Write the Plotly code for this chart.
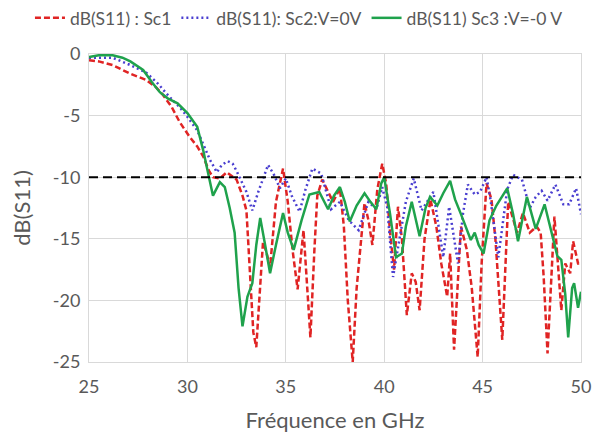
import plotly.graph_objects as go

# ---- data ----
sc1_freq = [25.0, 25.5, 26.2, 27.1, 27.9, 28.4, 28.75, 29.2, 29.6, 30.1, 30.5, 30.8, 31.1, 31.3, 31.65,
            32.0, 32.5, 32.8, 33.0, 33.2, 33.35, 33.5, 33.65, 33.84, 34.0, 34.2, 34.5, 34.86, 35.1, 35.35,
            35.6, 35.9, 36.05, 36.25, 36.45, 36.6, 36.85, 37.1, 37.4, 37.75, 37.95, 38.15, 38.4, 38.6,
            39.0, 39.2, 39.4, 39.65, 39.9, 40.1, 40.3, 40.5, 40.7, 40.9, 41.15, 41.4, 41.6, 41.8, 42.05,
            42.35, 42.65, 42.9, 43.2, 43.35, 43.55, 43.9, 44.2, 44.45, 44.75, 44.95, 45.2, 45.45, 45.65,
            46.0, 46.3, 46.75, 47.05, 47.4, 47.75, 47.95, 48.1, 48.3, 48.65, 49.0, 49.2, 49.45, 49.6,
            49.85, 50.0]
sc1_db = [-0.5, -0.6, -0.9, -1.6, -2.1, -2.7, -3.3, -4.3, -5.5, -6.7, -7.5, -8.3, -9.5, -10.0, -10.1,
          -9.6, -10.2, -11.5, -12.7, -18.0, -22.6, -23.8, -20.0, -15.3, -16.0, -17.3, -12.0, -9.3, -12.0, -16.0,
          -19.1, -14.3, -18.0, -23.0, -16.0, -11.5, -10.2, -11.0, -12.0, -10.9, -14.0, -20.0, -25.0, -19.0,
          -12.1, -13.5, -15.5, -11.0, -8.9, -10.5, -14.5, -17.5, -12.4, -15.0, -21.2, -17.8, -18.5, -20.8, -15.0,
          -11.8, -14.0, -17.0, -19.7, -16.2, -24.0, -14.0, -15.9, -19.0, -24.6, -17.0, -10.5, -11.8, -15.0,
          -23.2, -12.0, -14.5, -12.9, -14.5, -14.0, -14.5, -18.0, -24.3, -13.2, -20.8, -17.0, -17.8, -15.2,
          -17.0, -17.0]

sc2_freq = [25.0, 25.5, 26.2, 27.1, 27.9, 28.5, 29.1, 29.6, 30.0, 30.5, 30.85, 31.15, 31.5, 31.75, 32.05,
            32.3, 32.5, 32.8, 33.0, 33.3, 33.6, 34.1, 34.4, 34.7, 35.0, 35.3, 35.7, 36.0, 36.35, 36.8, 37.0,
            37.3, 37.75, 38.2, 38.7, 39.2, 39.6, 39.9, 40.15, 40.45, 40.8, 41.1, 41.5, 41.9, 42.5, 43.0,
            43.3, 43.75, 44.0, 44.25, 44.6, 44.87, 45.2, 45.4, 45.8, 46.25, 46.55, 47.0, 47.4, 47.7, 48.0,
            48.3, 48.7, 49.1, 49.4, 49.75, 50.0]
sc2_db = [-0.3, -0.3, -0.3, -0.9, -1.5, -2.4, -3.5, -4.3, -5.1, -6.2, -7.5, -8.6, -9.6, -9.0, -8.7,
          -8.9, -9.5, -10.5, -11.2, -12.7, -11.2, -9.0, -9.8, -10.9, -10.1, -11.5, -12.8, -11.0, -9.3, -9.7, -10.8,
          -12.6, -12.0, -13.5, -14.3, -12.0, -12.6, -10.8, -12.4, -18.1, -14.8, -12.0, -10.1, -12.7, -11.2, -16.5,
          -12.4, -17.0, -13.0, -10.6, -11.4, -11.2, -10.0, -11.8, -16.5, -11.0, -9.8, -10.2, -12.5, -11.6, -11.1,
          -11.9, -10.6, -12.2, -12.2, -10.9, -13.0]

sc3_freq = [25.0, 25.5, 26.2, 26.7, 27.1, 27.75, 28.2, 28.6, 29.0, 29.5, 30.0, 30.5, 30.8, 31.0, 31.3,
            31.65, 31.9, 32.15, 32.4, 32.6, 32.8, 33.05, 33.3, 33.5, 33.7, 33.95, 34.2, 34.5, 34.86, 35.1,
            35.4, 35.8, 36.2, 36.7, 37.15, 37.45, 37.75, 38.0, 38.25, 38.6, 39.0, 39.3, 39.6, 39.85, 40.0,
            40.3, 40.6, 40.9, 41.1, 41.4, 41.6, 41.8, 42.1, 42.33, 42.7, 43.0, 43.35, 43.6, 43.9, 44.15,
            44.4, 44.6, 44.8, 45.05, 45.35, 45.7, 46.25, 46.55, 46.8, 47.25, 47.7, 48.15, 48.5, 48.8, 49.0,
            49.2, 49.35, 49.55, 49.65, 49.85, 50.0]
sc3_db = [-0.25, -0.1, -0.1, -0.3, -0.6, -1.3, -2.3, -3.1, -3.6, -4.0, -4.8, -5.9, -7.8, -9.2, -11.5,
          -10.4, -10.8, -12.5, -14.5, -19.0, -22.1, -19.7, -18.6, -15.5, -13.3, -15.5, -17.8, -15.5, -12.9, -14.5,
          -15.9, -13.5, -11.4, -11.2, -12.6, -11.5, -10.8, -12.0, -13.6, -12.3, -11.3, -12.0, -12.6, -10.5, -10.0,
          -13.0, -16.5, -16.2, -14.0, -12.0, -13.5, -14.8, -12.5, -11.6, -12.3, -11.3, -10.3, -11.8, -13.0, -14.0,
          -15.1, -14.5, -15.5, -16.2, -13.5, -12.3, -10.9, -13.0, -15.2, -11.6, -14.2, -12.2, -14.5, -16.4, -16.7,
          -19.5, -23.0, -19.0, -18.6, -20.6, -19.3]

series_names = ["dB(S11) : Sc1", "dB(S11): Sc2:V=0V", "dB(S11) Sc3 :V=-0 V"]
threshold_db = -10
x_ticks = [25, 30, 35, 40, 45, 50]
y_ticks = [0, -5, -10, -15, -20, -25]
y_tick_labels = ["0", "-5", "-10", "-15", "-20", "-25"]

FONT = "Lato, 'Open Sans', sans-serif"
TXT = "#595959"
GRID = "#d9d9d9"

fig = go.Figure()
fig.add_trace(go.Scatter(x=sc1_freq, y=sc1_db, mode="lines", name=series_names[0],
                         line=dict(color="#e02424", width=2.5, dash="6px,3px")))
fig.add_trace(go.Scatter(x=sc2_freq, y=sc2_db, mode="lines", name=series_names[1],
                         line=dict(color="#4a3fd0", width=2.5, dash="2px,3px")))
fig.add_trace(go.Scatter(x=sc3_freq, y=sc3_db, mode="lines", name=series_names[2],
                         line=dict(color="#1fa24c", width=2.5)))

fig.add_hline(y=threshold_db, line=dict(color="black", width=2, dash="9px,5px"))

fig.update_layout(
    width=601, height=434,
    margin=dict(l=89, r=20, t=54, b=72, autoexpand=False),
    paper_bgcolor="white", plot_bgcolor="white",
    font=dict(family=FONT, color=TXT),
    showlegend=True,
    legend=dict(orientation="h", x=-0.12, xanchor="left",
                y=1.117, yanchor="middle",
                font=dict(size=17.5, color=TXT), tracegroupgap=0,
                bgcolor="rgba(0,0,0,0)"),
    xaxis=dict(range=[25, 50], tickvals=x_ticks, showgrid=True, gridcolor=GRID, gridwidth=1,
               zeroline=False, showline=True, linecolor=GRID, mirror=True, automargin=False,
               tickfont=dict(size=18, color=TXT), ticks="", ticklabelstandoff=8,
               title=dict(text="Fréquence en GHz", font=dict(size=22, color=TXT), standoff=17)),
    yaxis=dict(range=[-25, 0], tickvals=y_ticks, ticktext=y_tick_labels, showgrid=True,
               gridcolor=GRID, gridwidth=1, zeroline=False, showline=True, linecolor=GRID,
               mirror=True, automargin=False, tickfont=dict(size=18, color=TXT), ticks="",
               ticklabelstandoff=4,
               title=dict(text="dB(S11)", font=dict(size=22, color=TXT), standoff=16)),
)

fig.write_html("out.html", config={"displayModeBar": False},
               post_script="document.body.style.margin='0';")
